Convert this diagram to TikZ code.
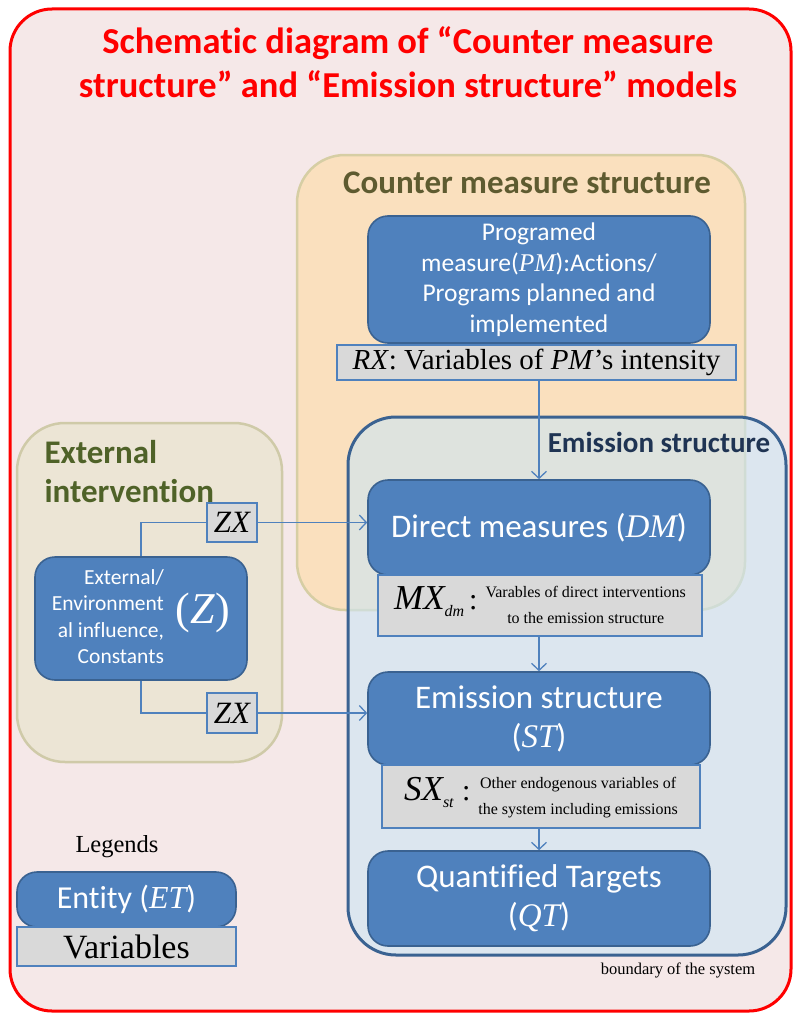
\documentclass[tikz,border=0pt]{standalone}
\usepackage{fontspec}
\setmainfont{Liberation Serif}
\newfontfamily\calib[Ligatures=NoCommon]{Carlito}
\usetikzlibrary{arrows.meta,positioning}

\definecolor{entblue}{HTML}{4F81BD}
\definecolor{entline}{HTML}{3A6291}
\definecolor{vargray}{HTML}{D9D9D9}
\definecolor{bgpink}{HTML}{F5E8E8}
\definecolor{cmfill}{HTML}{FAE0BE}
\definecolor{cmline}{HTML}{D6CEA4}
\definecolor{cmtext}{HTML}{5E5B30}
\definecolor{exfill}{HTML}{ECE5D5}
\definecolor{exline}{HTML}{CFCAA8}
\definecolor{extext}{HTML}{4F6228}
\definecolor{emfill}{HTML}{CCE6F4}
\definecolor{emline}{HTML}{3A6291}
\definecolor{emtext}{HTML}{1F3453}

\newcommand{\fsz}[2]{\fontsize{#1}{#2}\selectfont}
\newcommand{\mv}[1]{{\rmfamily\itshape #1}}

\begin{document}
\begin{tikzpicture}[x=1pt,y=-1pt,>={Straight Barb[length=7pt,width=15pt]},
    entity/.style={draw=entline,line width=1.6pt,fill=entblue,rounded corners=20pt,text=white,align=center,inner sep=0pt},
    varbox/.style={draw=entblue,line width=1.2pt,fill=vargray,inner sep=0pt,align=center},
    region/.style={rounded corners=48pt,line width=2.5pt,inner sep=0pt},
    link/.style={draw=entblue,line width=1.3pt}]
  \useasboundingbox (0,0) rectangle (793,1014);

  % frame and title
  \node[draw=red,line width=3pt,fill=bgpink,rounded corners=42pt,inner sep=0pt,
        minimum width=781pt,minimum height=1002pt] (frame) at (400.5,510) {};
  \node[font=\calib\bfseries\fsz{36.5}{44},text=red,align=center] (title) at (408,62)
    {Schematic diagram of “Counter measure\\structure” and “Emission structure” models};

  % regions
  \node[region,fill=cmfill,draw=cmline,minimum width=448pt,minimum height=455pt] (cms) at (521,382.5) {};
  \node[region,fill=exfill,draw=exline,minimum width=265pt,minimum height=339pt] (ext) at (149.5,592.5) {};
  \node[region,fill=emfill,fill opacity=0.6,draw=emline,draw opacity=1,line width=3pt,
        minimum width=438pt,minimum height=538pt] (ems) at (567,686) {};
  \node[font=\calib\bfseries\fsz{33}{33},text=cmtext,anchor=base] (cmslbl) at (527,193) {Counter measure structure};
  \node[font=\calib\bfseries\fsz{33}{39},text=extext,align=left,anchor=west] (extlbl) at (41,472) {External\\intervention};
  \node[font=\calib\bfseries\fsz{29}{29},text=emtext,anchor=base] (emslbl) at (659,452) {Emission structure};

  % counter measure
  \node[entity,font=\calib\fsz{25.5}{30.5},minimum width=342pt,minimum height=127pt] (PM) at (539,279.5)
    {Programed\\measure(\mv{PM}):Actions/\\Programs planned and\\implemented};
  \node[varbox,font=\fsz{29}{29},minimum width=399pt,minimum height=35pt] (RX) at (536.5,362.5)
    {\textit{RX}: Variables of \textit{PM}’s intensity};

  % emission structure
  \node[entity,font=\calib\fsz{33}{39},minimum width=342pt,minimum height=95pt] (DM) at (539,527.5)
    {Direct measures (\mv{DM})};
  \node[varbox,minimum width=324pt,minimum height=61pt] (MX) at (540,605.5)
    {{\fsz{35}{35}\itshape MX}\raisebox{-7pt}{\fsz{16}{16}\itshape dm}{\fsz{30}{30}\,:}\hspace{8pt}%
     {\fsz{16}{26}\begin{tabular}{@{}c@{}}Varables of direct interventions\\to the emission structure\end{tabular}}};
  \node[entity,font=\calib\fsz{33}{39},minimum width=342pt,minimum height=93pt] (ST) at (539,718.5)
    {Emission structure\\(\mv{ST})};
  \node[varbox,minimum width=318pt,minimum height=63pt] (SX) at (541,796.5)
    {{\fsz{35}{35}\itshape SX}\raisebox{-7pt}{\fsz{16}{16}\itshape st}{\fsz{30}{30}\;:}\hspace{8pt}%
     {\fsz{16}{26}\begin{tabular}{@{}c@{}}Other endogenous variables of\\the system including emissions\end{tabular}}};
  \node[entity,font=\calib\fsz{33}{39},minimum width=342pt,minimum height=95pt] (QT) at (539,898.5)
    {Quantified Targets\\(\mv{QT})};
  \node[font=\fsz{16.5}{16.5}] (bound) at (678,970) {boundary of the system};

  % external intervention
  \node[entity,font=\calib,minimum width=212pt,minimum height=123pt] (Z) at (141,618.5)
    {{\fsz{21.5}{26.5}\begin{tabular}{@{}r@{}}External/\\Environment\\al influence,\\Constants\end{tabular}}\hspace{12pt}%
     {\rmfamily\fsz{44}{44}(\textit{Z})}};
  \node[varbox,font=\fsz{31}{31}\itshape,minimum width=50pt,minimum height=39pt] (ZX1) at (232,522.5) {ZX};
  \node[varbox,font=\fsz{31}{31}\itshape,minimum width=50pt,minimum height=40pt] (ZX2) at (232,713) {ZX};

  % legend
  \node[font=\fsz{24.5}{24.5}] (legend) at (117,847) {Legends};
  \node[entity,font=\calib\fsz{32}{32},minimum width=219pt,minimum height=55pt] (ET) at (126.5,899.5)
    {Entity (\mv{ET})};
  \node[varbox,font=\fsz{34}{34},minimum width=219pt,minimum height=39pt] (VAR) at (126.5,946.5) {Variables};

  % links
  \draw[link,->] (RX.south -| DM.north) -- (DM.north);
  \draw[link,->] (MX.south -| ST.north) -- (ST.north);
  \draw[link,->] (SX.south -| QT.north) -- (QT.north);
  \draw[link] (Z.north) |- (ZX1.west);
  \draw[link,->] (ZX1.east) -- (ZX1.east -| DM.west);
  \draw[link] (Z.south) |- (ZX2.west);
  \draw[link,->] (ZX2.east) -- (ZX2.east -| ST.west);
\end{tikzpicture}
\end{document}
